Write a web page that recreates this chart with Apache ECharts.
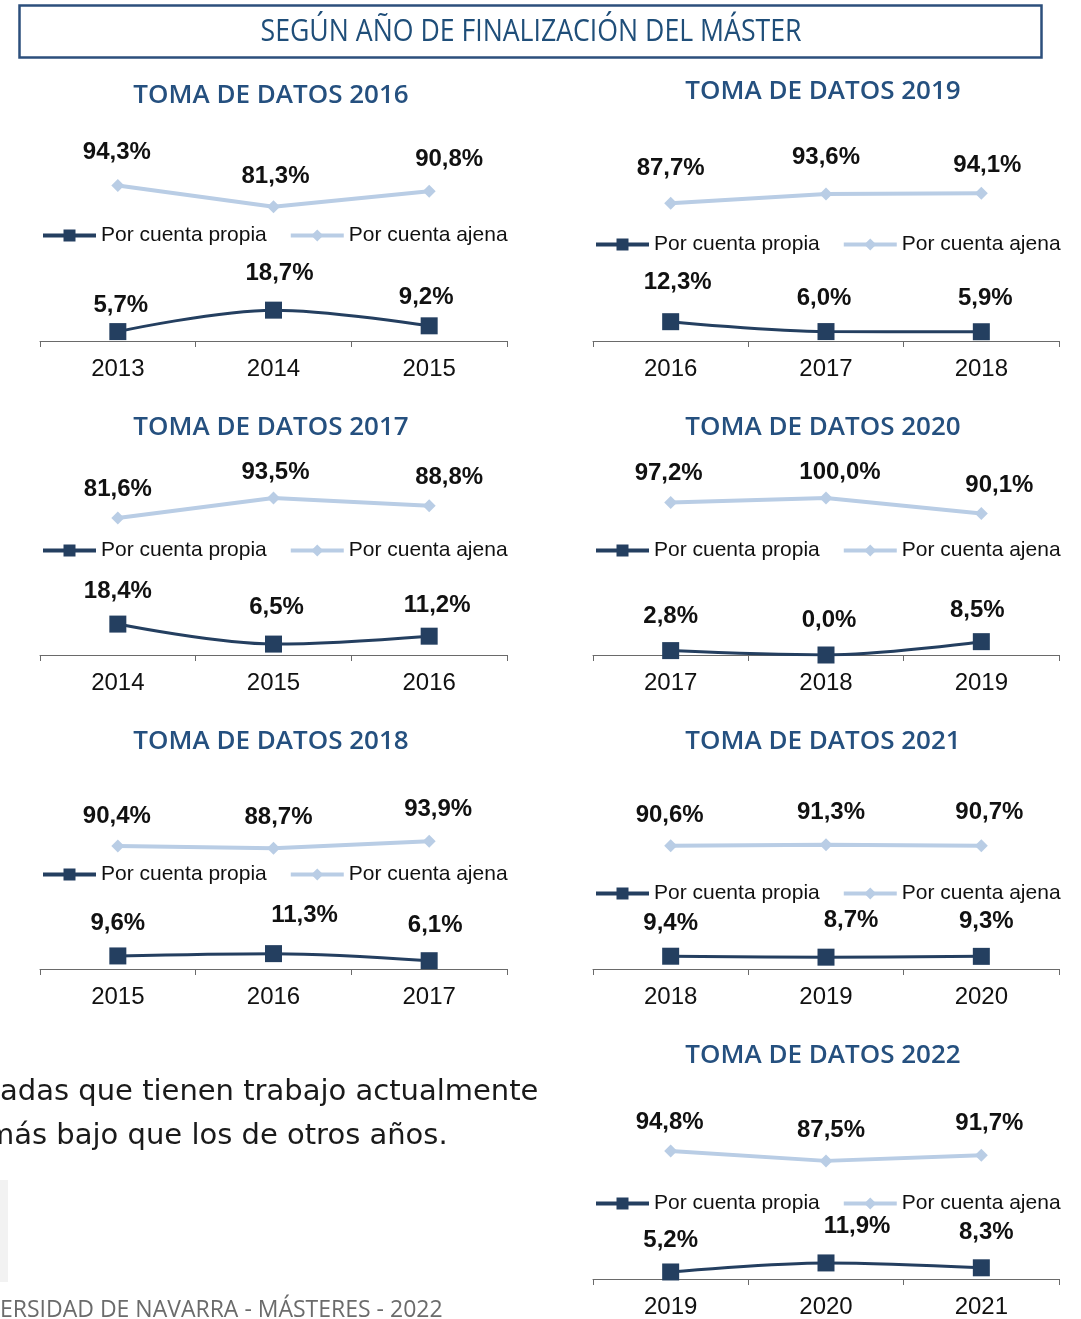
<!DOCTYPE html>
<html>
<head>
<meta charset="utf-8">
<script src="https://cdn.jsdelivr.net/npm/echarts@6/dist/echarts.min.js"></script>
<style>
html,body{margin:0;padding:0;background:#fff;}
#c{width:1081px;height:1319px;}
</style>
</head>
<body>
<div id="c"></div>
<script>
// ---- data ----
const seriesNames = ['Por cuenta propia', 'Por cuenta ajena'];

const cats2016 = ['2013', '2014', '2015'];
const propia2016 = [5.7, 18.7, 9.2];
const ajena2016 = [94.3, 81.3, 90.8];

const cats2017 = ['2014', '2015', '2016'];
const propia2017 = [18.4, 6.5, 11.2];
const ajena2017 = [81.6, 93.5, 88.8];

const cats2018 = ['2015', '2016', '2017'];
const propia2018 = [9.6, 11.3, 6.1];
const ajena2018 = [90.4, 88.7, 93.9];

const cats2019 = ['2016', '2017', '2018'];
const propia2019 = [12.3, 6.0, 5.9];
const ajena2019 = [87.7, 93.6, 94.1];

const cats2020 = ['2017', '2018', '2019'];
const propia2020 = [2.8, 0.0, 8.5];
const ajena2020 = [97.2, 100.0, 90.1];

const cats2021 = ['2018', '2019', '2020'];
const propia2021 = [9.4, 8.7, 9.3];
const ajena2021 = [90.6, 91.3, 90.7];

const cats2022 = ['2019', '2020', '2021'];
const propia2022 = [5.2, 11.9, 8.3];
const ajena2022 = [94.8, 87.5, 91.7];

const headerText = 'SEGÚN AÑO DE FINALIZACIÓN DEL MÁSTER';
const bodyLine1 = 'adas que tienen trabajo actualmente';
const bodyLine2 = 'más bajo que los de otros años.';
const footerText = 'ERSIDAD DE NAVARRA - MÁSTERES - 2022';

// ---- layout (positions / styles only) ----
const panels = [
  {title:'TOMA DE DATOS 2016', cats:cats2016, propia:propia2016, ajena:ajena2016, col:0, axisY:341, ppu:1.65, titleY:96, legendY:234,
   nudgeP:[[3,-26],[6,-37],[-3,-28]], nudgeA:[[-1,-33],[2,-30],[20,-32]]},
  {title:'TOMA DE DATOS 2017', cats:cats2017, propia:propia2017, ajena:ajena2017, col:0, axisY:655, ppu:1.68, titleY:428, legendY:549,
   nudgeP:[[0,-33],[3,-37],[8,-31]], nudgeA:[[0,-29],[2,-26],[20,-28]]},
  {title:'TOMA DE DATOS 2018', cats:cats2018, propia:propia2018, ajena:ajena2018, col:0, axisY:969, ppu:1.36, titleY:742, legendY:873,
   nudgeP:[[0,-33],[31,-38],[6,-35]], nudgeA:[[-1,-30],[5,-31],[9,-32]]},
  {title:'TOMA DE DATOS 2019', cats:cats2019, propia:propia2019, ajena:ajena2019, col:1, axisY:341, ppu:1.57, titleY:92, legendY:243,
   nudgeP:[[7,-39],[-2,-33],[4,-33]], nudgeA:[[0,-35],[0,-37],[6,-28]]},
  {title:'TOMA DE DATOS 2020', cats:cats2020, propia:propia2020, ajena:ajena2020, col:1, axisY:655, ppu:1.57, titleY:428, legendY:549,
   nudgeP:[[0,-34],[3,-35],[-4,-31]], nudgeA:[[-2,-29],[14,-26],[18,-28]]},
  {title:'TOMA DE DATOS 2021', cats:cats2021, propia:propia2021, ajena:ajena2021, col:1, axisY:969, ppu:1.36, titleY:742, legendY:892,
   nudgeP:[[0,-33],[25,-37],[5,-35]], nudgeA:[[-1,-30],[5,-32],[8,-33]]},
  {title:'TOMA DE DATOS 2022', cats:cats2022, propia:propia2022, ajena:ajena2022, col:1, axisY:1280, ppu:1.36, titleY:1056, legendY:1202,
   nudgeP:[[0,-32],[31,-37],[5,-35]], nudgeA:[[-1,-29],[5,-31],[8,-32]]}
];
const cols = [{left:40, width:467, titleX:271, legendX:41}, {left:593, width:466, titleX:823, legendX:594}];

const DARK = '#243f60', LIGHT = '#b9cde5';
const fmt = v => v.toFixed(1).replace('.', ',') + '%';

const grid = [], xAxis = [], yAxis = [], series = [], legend = [], graphic = [];

panels.forEach((p, i) => {
  const c = cols[p.col];
  const h = 100 * p.ppu;
  grid.push({left:c.left, width:c.width, top:p.axisY - h, height:h, containLabel:false});
  xAxis.push({type:'category', gridIndex:i, data:p.cats, boundaryGap:true,
    axisLine:{show:true, lineStyle:{color:'#6a6a6a', width:1}},
    axisTick:{show:true, length:6, lineStyle:{color:'#6a6a6a'}},
    axisLabel:{fontFamily:'Liberation Sans, Arial', fontSize:24, color:'#111', margin:16},
    splitLine:{show:false}});
  yAxis.push({type:'value', gridIndex:i, min:0, max:100, show:false});
  const mk = (name, vals, nudges, color, symbol, size, width, smooth) => ({
    type:'line', name, xAxisIndex:i, yAxisIndex:i, smooth,
    symbol, symbolSize:size, showAllSymbol:true,
    lineStyle:{color, width}, itemStyle:{color},
    data: vals.map((v, k) => ({value:v, label:{offset:nudges[k]}})),
    label:{show:true, position:'inside', formatter: d => fmt(d.value),
      fontFamily:'Liberation Sans, Arial', fontWeight:'bold', fontSize:24, color:'#111'},
    emphasis:{disabled:true}, animation:false, z:3
  });
  series.push(mk(seriesNames[1], p.ajena, p.nudgeA, LIGHT, 'diamond', 13, 4, false));
  series.push(mk(seriesNames[0], p.propia, p.nudgeP, DARK, 'rect', 17, 3, 0.35));
  legend.push({data:seriesNames, left:c.legendX, top:p.legendY - 9, padding:0, itemWidth:53, itemHeight:15, itemGap:22,
    lineStyle:{width:4},
    selectedMode:false, textStyle:{fontFamily:'Liberation Sans, Arial', fontSize:21, color:'#111'}});
  graphic.push({type:'text', x:c.titleX, y:p.titleY, style:{text:p.title, fill:'#25507f',
    font:'600 26px "Open Sans"', textAlign:'center', textVerticalAlign:'middle'}});
});

// header box and text
graphic.push({type:'rect', shape:{x:19.5, y:5.5, width:1022, height:52}, style:{fill:'none', stroke:'#2c4f7c', lineWidth:2.5}});
graphic.push({type:'text', x:531, y:32, scaleX:0.86, style:{text:headerText, fill:'#1f4e79',
  font:'500 31px "Open Sans"', textAlign:'center', textVerticalAlign:'middle'}});
// body text
graphic.push({type:'text', x:0, y:1092, style:{text:bodyLine1, fill:'#1a1a1a', font:'29px "DejaVu Sans"', textVerticalAlign:'middle'}});
graphic.push({type:'text', x:-14, y:1136, style:{text:bodyLine2, fill:'#1a1a1a', font:'29px "DejaVu Sans"', textVerticalAlign:'middle'}});
graphic.push({type:'rect', shape:{x:0, y:1180, width:8, height:102}, style:{fill:'#f2f2f2'}});
graphic.push({type:'text', x:0, y:1310, style:{text:footerText, fill:'#6b6b6b', font:'23px "Open Sans"', textVerticalAlign:'middle'}});

const chart = echarts.init(document.getElementById('c'), null, {renderer:'canvas'});
chart.setOption({backgroundColor:'#fff', animation:false, grid, xAxis, yAxis, series, legend, graphic});
</script>
</body>
</html>
